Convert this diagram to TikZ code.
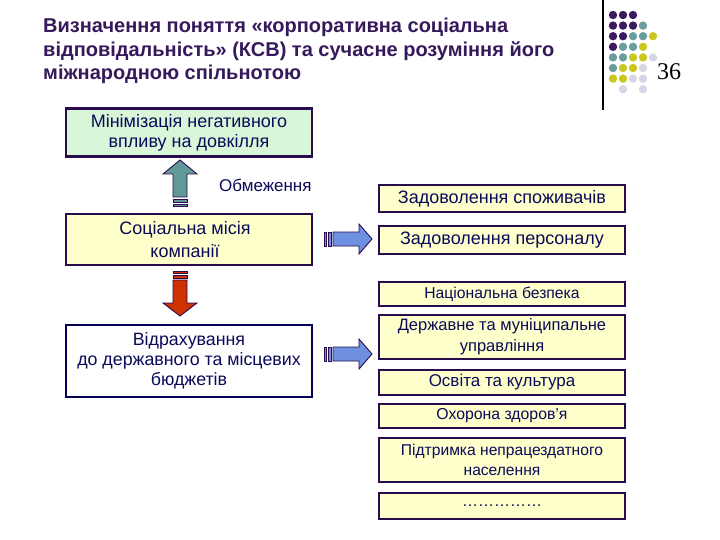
\documentclass[tikz,border=0pt]{standalone}
\usepackage{fontspec}
\setmainfont{Liberation Sans}
\newfontfamily\serifnum{Liberation Serif}
\definecolor{titlec}{HTML}{35195A}
\definecolor{bord}{HTML}{2A0C4E}
\definecolor{navy}{HTML}{0A0A5A}
\definecolor{navyb}{HTML}{000055}
\definecolor{greenf}{HTML}{D8F6D8}
\definecolor{yellf}{HTML}{FFFFCC}
\definecolor{dpurp}{HTML}{3D1A5E}
\definecolor{dteal}{HTML}{6A9E9E}
\definecolor{dyell}{HTML}{C9C81E}
\definecolor{dlav}{HTML}{D6D6E6}
\definecolor{tealA}{HTML}{5F9A98}
\definecolor{redA}{HTML}{CC3300}
\definecolor{blueA}{HTML}{6F90E0}
\tikzset{
  box/.style={draw=bord, line width=2.6pt, minimum width=246pt, text=navy, align=center, inner sep=0pt},
  rbox/.style={box, fill=yellf},
  blk/.style={draw=bord, line width=0.9pt, line join=miter},
  dot/.style={circle, inner sep=0pt, minimum size=8.4pt},
  ttl/.style={anchor=base west, text=titlec, font=\fontsize{20}{24}\selectfont\bfseries, inner sep=0pt},
}
\begin{document}
\begin{tikzpicture}[x=1pt,y=-1pt]
\useasboundingbox (0,0) rectangle (720,540);
% title
\node[ttl] (title1) at (43,33) {Визначення поняття «корпоративна соціальна};
\node[ttl] (title2) at (43,57) {відповідальність» (КСВ) та сучасне розуміння його};
\node[ttl] (title3) at (43,80) {міжнародною спільнотою};
% decoration
\draw[line width=1.4pt, black] (603,0) coordinate (vl1) -- (603,110) coordinate (vl2);
\node[font=\serifnum\fontsize{24}{24}\selectfont, inner sep=0pt] (num) at (669,72) {36};
\foreach \c/\x/\y in {dpurp/0/0,dpurp/1/0,dpurp/2/0,
  dpurp/0/1,dpurp/1/1,dpurp/2/1,dteal/3/1,
  dpurp/0/2,dpurp/1/2,dteal/2/2,dteal/3/2,dyell/4/2,
  dpurp/0/3,dteal/1/3,dteal/2/3,dyell/3/3,
  dteal/0/4,dteal/1/4,dyell/2/4,dyell/3/4,dlav/4/4,
  dteal/0/5,dyell/1/5,dyell/2/5,dlav/3/5,
  dyell/0/6,dyell/1/6,dlav/2/6,dlav/3/6,
  dlav/1/7,dlav/3/7}
  \node[dot, fill=\c] (d\x\y) at ({613+10*\x},{15+10.6*\y}) {};
% left boxes
\node[box, fill=greenf, minimum height=48pt, font=\fontsize{18}{20}\selectfont] (env) at (189,132.5)
  {Мінімізація негативного\\впливу на довкілля};
\node[box, fill=yellf, minimum height=51pt] (mis) at (189,239.5) {};
\node[text=navy, align=center, inner sep=0pt, font=\fontsize{18}{23}\selectfont] (mist) at (185,240)
  {Соціальна місія\\компанії};
\node[box, draw=navyb, fill=white, minimum height=72pt, font=\fontsize{17.8}{20}\selectfont] (bud) at (189,361)
  {Відрахування\\до державного та місцевих\\бюджетів};
\node[text=navy, font=\fontsize{17}{17}\selectfont, anchor=west, inner sep=0pt] (obm) at (219,185) {Обмеження};
% up arrow (teal)
\filldraw[blk, fill=tealA] (180,160) -- (197,174) -- (187,174) -- (187,197) -- (173,197) -- (173,174) -- (163,174) -- cycle;
\filldraw[blk, fill=tealA] (173,199.5) rectangle (187,202.5);
\filldraw[blk, fill=tealA] (173,204.5) rectangle (187,206.5);
% down arrow (red)
\filldraw[blk, fill=redA] (173,271) rectangle (187,273);
\filldraw[blk, fill=redA] (173,275) rectangle (187,278);
\filldraw[blk, fill=redA] (173,280) -- (187,280) -- (187,303) -- (197,303) -- (180,316) -- (163,303) -- (173,303) -- cycle;
% right arrows (blue)
\foreach \yy in {239,354}{
  \filldraw[blk, fill=blueA] (324,\yy-7) rectangle (326,\yy+7);
  \filldraw[blk, fill=blueA] (328,\yy-7) rectangle (331,\yy+7);
  \filldraw[blk, fill=blueA] (333,\yy-7) -- (359,\yy-7) -- (359,\yy-15) -- (372,\yy) -- (359,\yy+15) -- (359,\yy+7) -- (333,\yy+7) -- cycle;
}
% right boxes
\node[rbox, minimum height=27pt, font=\fontsize{18}{20}\selectfont] (r1) at (502,198.5) {Задоволення споживачів};
\node[rbox, minimum height=28pt, font=\fontsize{18}{20}\selectfont] (r2) at (502,240) {Задоволення персоналу};
\node[rbox, minimum height=24pt, font=\fontsize{15.7}{18}\selectfont] (r3) at (502,294) {Національна безпека};
\node[rbox, minimum height=44pt, font=\fontsize{16.5}{21}\selectfont] (r4) at (502,337) {Державне та муніципальне\\управління};
\node[rbox, minimum height=25pt, font=\fontsize{17}{18}\selectfont] (r5) at (502,382.5) {Освіта та культура};
\node[rbox, minimum height=24pt, font=\fontsize{15.8}{18}\selectfont] (r6) at (502,416) {Охорона здоров'я};
\node[rbox, minimum height=44pt, font=\fontsize{15.6}{19.5}\selectfont] (r7) at (502,460) {Підтримка непрацездатного\\населення};
\node[rbox, minimum height=26pt, font=\fontsize{16}{18}\selectfont] (r8) at (502,506) {……………};
\end{tikzpicture}
\end{document}
